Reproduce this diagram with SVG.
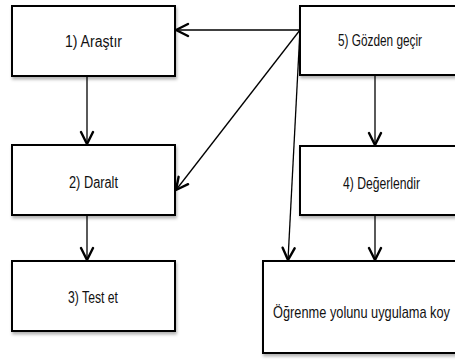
<svg xmlns="http://www.w3.org/2000/svg" width="455" height="360" viewBox="0 0 455 360">
<defs>
<filter id="sh" x="-10%" y="-10%" width="130%" height="140%">
<feDropShadow dx="1" dy="2.5" stdDeviation="1.5" flood-color="#000" flood-opacity="0.3"/>
</filter>
<marker id="arr" markerUnits="userSpaceOnUse" viewBox="-14 -8 16 16" refX="0" refY="0" markerWidth="16" markerHeight="16" orient="auto">
<path d="M-12,-6 L0,0 L-12,6" fill="none" stroke="#000" stroke-width="2.4" stroke-linecap="round" stroke-linejoin="miter"/>
</marker>
</defs>
<style>
.box{fill:#fff;stroke:#000;stroke-width:2;filter:url(#sh)}
.lbl{font-family:"Liberation Sans",Arial,sans-serif;font-size:16px;fill:#111;text-anchor:middle}
.sm{font-size:12.8px}
.con{stroke:#000;stroke-width:1.3;fill:none;marker-end:url(#arr)}
</style>
<g id="connectors">
<line class="con" x1="300" y1="30" x2="176" y2="30"/>
<line class="con" x1="300" y1="30" x2="176" y2="190"/>
<line class="con" x1="300" y1="30" x2="288" y2="260"/>
<line class="con" x1="87" y1="77" x2="87" y2="144"/>
<line class="con" x1="87" y1="216" x2="87" y2="260"/>
<line class="con" x1="375" y1="76" x2="375" y2="145"/>
<line class="con" x1="375" y1="216" x2="375" y2="260"/>
</g>
<g id="n1">
<rect class="box" x="12" y="6" width="163" height="70"/>
<text class="lbl" x="93.5" y="47" textLength="57" lengthAdjust="spacingAndGlyphs">1) Araştır</text>
</g>
<g id="n2">
<rect class="box" x="12" y="145" width="163" height="70"/>
<text class="lbl" x="93.5" y="188" textLength="49" lengthAdjust="spacingAndGlyphs">2) Daralt</text>
</g>
<g id="n3">
<rect class="box" x="12" y="261" width="163" height="70"/>
<text class="lbl" x="93" y="303" textLength="50" lengthAdjust="spacingAndGlyphs">3) Test et</text>
</g>
<g id="n5">
<rect class="box" x="300" y="6" width="170" height="69"/>
<text class="lbl" x="380" y="46" textLength="84" lengthAdjust="spacingAndGlyphs">5) Gözden geçir</text>
</g>
<g id="n4">
<rect class="box" x="300" y="146" width="170" height="69"/>
<text class="lbl" x="381.5" y="189" textLength="77" lengthAdjust="spacingAndGlyphs">4) Değerlendir</text>
</g>
<g id="n6">
<rect class="box" x="263" y="261" width="210" height="92"/>
<text class="lbl sm" transform="translate(361.5,318) scale(1,1.25)" x="0" y="0">Öğrenme yolunu uygulama koy</text>
</g>
</svg>
